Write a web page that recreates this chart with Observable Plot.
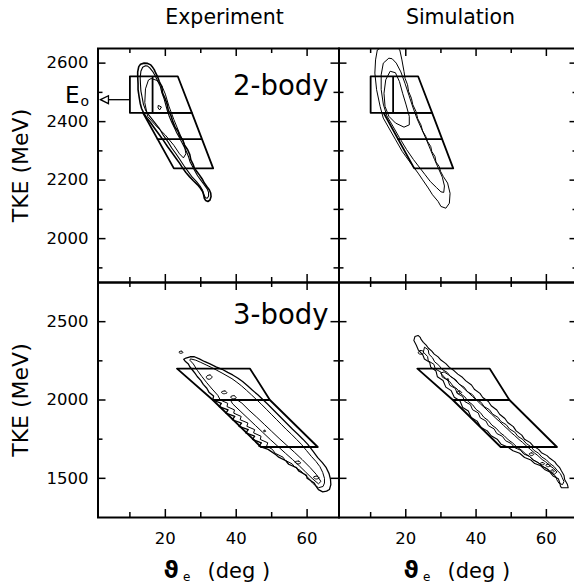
<!DOCTYPE html>
<html>
<head>
<meta charset="utf-8">
<script src="https://cdn.jsdelivr.net/npm/d3@7"></script>
<script src="https://cdn.jsdelivr.net/npm/@observablehq/plot@0.6"></script>
<style>
  html, body { margin: 0; padding: 0; background: #fff; overflow: hidden; }
  #fig { position: relative; width: 574px; height: 584px; overflow: hidden; background: #fff; }
  #fig > svg { position: absolute; }
</style>
</head>
<body>
<div id="fig"></div>
<script>
// ---- axes ----
const thetaDomain = [1, 69];
const tkeDomainTop = [1850, 2650];
const tkeDomainBottom = [1250, 2750];
const xMajor = [20, 40, 60];
const xMinor = [10, 30, 50];
const xLabels = [20, 40, 60];
const yMajorTop = [2000, 2200, 2400, 2600];
const yMinorTop = [1900, 2100, 2300, 2500];
const yMajorBottom = [1500, 2000, 2500];
const yMinorBottom = [1750, 2250];
const columns = ["Experiment", "Simulation"];
const rows = ["2-body", "3-body"];

// beam energy marker (MeV) and arrow span in theta (deg)
const E0 = 2475;
const e0ArrowTheta = [10, 3.05];

// ---- gates: [theta, TKE] vertices ----
const box2Upper = [[10, 2555], [23.5, 2555], [27.5, 2430], [10, 2430]];
const box2Lower = [[13.7, 2430], [27.5, 2430], [33.5, 2240], [22.4, 2240]];
const box2Dividers = [[16.4, 2430, 16.4, 2555], [17.6, 2340, 30.3, 2340]];
const box3 = [[23.3, 2200], [43.9, 2200], [49.5, 2000], [63, 1700], [47, 1700], [33.4, 2000]];
const box3Dividers = [[33.4, 2000, 49.5, 2000]];

// ---- experiment, 2-body contours ----
const exp2Outer = [[14.0,2600],[13.0,2596],[12.5,2588],[12.2,2570],[12.2,2554],[12.3,2530],[12.3,2509],[12.6,2485],[12.9,2463],[13.3,2445],[13.9,2429],[14.8,2412],[15.9,2395],[17.1,2375],[18.3,2355],[19.5,2335],[20.6,2315],[21.8,2295],[23.0,2275],[24.0,2258],[24.9,2241],[25.8,2226],[26.8,2212],[27.9,2198],[29.1,2184],[29.9,2172],[30.5,2161],[30.8,2150],[31.0,2138],[31.4,2130],[32.0,2127],[32.6,2132],[32.9,2144],[32.8,2156],[32.4,2167],[31.7,2178],[31.0,2190],[30.4,2204],[29.6,2218],[29.0,2228],[28.2,2241],[27.8,2255],[27.2,2269],[26.9,2287],[26.3,2304],[25.4,2320],[24.9,2338],[24.0,2352],[23.6,2366],[22.7,2382],[22.1,2400],[21.6,2420],[20.8,2440],[20.5,2460],[19.9,2480],[19.2,2498],[19.0,2520],[18.3,2537],[17.8,2554],[17.2,2568],[16.9,2577],[16.3,2588],[15.9,2594],[15.0,2599]];
const exp2Mid = [[14.4,2591],[13.6,2586],[13.1,2572],[12.9,2550],[13.0,2525],[13.1,2505],[13.5,2480],[13.8,2460],[14.4,2440],[15.2,2425],[16.8,2400],[18.4,2375],[19.5,2352],[20.8,2330],[21.8,2310],[23.0,2290],[24.0,2272],[25.2,2250],[26.4,2230],[27.6,2210],[28.8,2195],[29.8,2180],[30.5,2165],[30.9,2150],[31.3,2140],[31.8,2138],[32.2,2145],[32.2,2158],[31.8,2170],[30.9,2185],[30.0,2200],[29.1,2215],[28.3,2232],[27.6,2248],[27.0,2262],[26.6,2278],[26.0,2296],[25.4,2312],[24.6,2330],[24.0,2345],[23.2,2362],[22.6,2378],[21.9,2395],[21.2,2415],[20.6,2436],[20.1,2458],[19.6,2480],[19.0,2500],[18.6,2520],[17.8,2540],[17.1,2558],[16.4,2572],[15.6,2584],[15.0,2590]];
const exp2Inner = [[15.2,2541],[14.4,2512],[14.2,2465],[15.0,2418],[17.1,2389],[20.0,2354],[22.4,2319],[24.0,2290],[25.1,2276],[25.8,2290],[25.3,2325],[23.8,2366],[22.4,2407],[21.0,2453],[20.0,2494],[19.0,2523],[17.6,2541],[16.1,2547]];
const exp2Peak = [[18.1,2455],[18.9,2450],[18.4,2440],[18.0,2446]];

// ---- simulation, 2-body contours ----
const sim2Outer = [[15.3,2660],[13.4,2656],[11.9,2645],[11.4,2611],[11.2,2566],[11.7,2509],[12.7,2452],[13.6,2412],[15.2,2378],[17.1,2338],[19.0,2298],[21.4,2258],[23.5,2224],[24.8,2201],[26.4,2173],[27.6,2150],[29.2,2127],[30.0,2110],[31.4,2104],[32.4,2121],[32.6,2155],[31.9,2190],[30.7,2212],[29.9,2230],[29.5,2247],[28.6,2262],[28.3,2281],[27.4,2298],[27.1,2315],[26.2,2332],[25.7,2349],[24.8,2368],[24.3,2389],[23.4,2410],[22.9,2435],[22.0,2458],[21.6,2480],[20.8,2503],[20.5,2526],[19.8,2548],[19.5,2571],[18.9,2611],[18.3,2645],[17.2,2658]];
const sim2Mid = [[15.1,2616],[13.6,2600],[13.0,2560],[13.0,2510],[13.6,2460],[14.6,2420],[16.3,2385],[18.2,2345],[20.2,2305],[22.2,2270],[23.8,2245],[25.4,2220],[27.0,2195],[28.7,2175],[30.0,2160],[30.8,2158],[31.0,2180],[30.4,2210],[29.3,2240],[28.2,2270],[27.0,2305],[25.8,2340],[24.5,2375],[23.2,2410],[22.0,2450],[20.9,2490],[19.8,2530],[18.6,2570],[17.3,2600],[16.2,2614]];
const sim2Inner = [[15.5,2571],[14.3,2543],[13.8,2497],[14.1,2452],[15.2,2418],[17.1,2395],[19.5,2381],[21.0,2389],[21.0,2418],[20.1,2457],[19.1,2497],[18.2,2537],[17.1,2566]];

// ---- experiment, 3-body contours ----
const exp3Outer = [[25.8,2268],[27.0,2276],[28.2,2276],[29.6,2262],[31.0,2246],[32.6,2230],[34.3,2212],[36.0,2196],[37.6,2176],[39.0,2160],[40.4,2140],[41.8,2118],[43.2,2091],[44.6,2062],[46.1,2033],[47.5,2003],[48.9,1973],[50.3,1941],[51.7,1909],[53.1,1877],[54.5,1845],[55.9,1813],[57.4,1781],[58.8,1750],[60.2,1717],[61.6,1675],[63.0,1632],[64.3,1600],[65.4,1568],[66.2,1530],[66.6,1493],[66.7,1460],[66.3,1429],[65.5,1418],[64.4,1414],[63.2,1428],[62.5,1450],[62.0,1470],[60.0,1500],[59.8,1520],[57.6,1548],[57.0,1568],[54.8,1590],[54.0,1612],[52.0,1635],[51.2,1650],[49.0,1685],[46.4,1706],[47.1,1727],[44.6,1748],[45.2,1769],[42.7,1790],[43.4,1811],[40.8,1832],[41.5,1853],[38.9,1874],[39.6,1895],[37.1,1916],[37.7,1937],[35.2,1958],[35.8,1979],[33.4,2000],[33.6,2025],[32.3,2050],[31.7,2075],[30.7,2100],[30.0,2125],[29.0,2150],[28.4,2170],[27.7,2190],[26.9,2212],[26.5,2230],[25.6,2248],[25.2,2260]];
const exp3Mid = [[27.2,2262],[28.6,2254],[30.0,2240],[31.5,2224],[33.0,2208],[34.5,2190],[36.0,2172],[37.4,2154],[38.8,2136],[40.2,2113],[41.5,2090],[42.9,2062],[44.3,2033],[45.7,2003],[47.1,1973],[48.5,1941],[49.9,1909],[51.3,1877],[52.7,1845],[54.1,1813],[55.6,1781],[57.0,1749],[58.4,1717],[59.8,1678],[61.2,1640],[62.5,1608],[63.6,1575],[64.4,1538],[64.9,1500],[64.9,1470],[64.5,1448],[63.2,1440],[62.3,1455],[61.5,1470],[60.5,1500],[59.3,1522],[58.2,1548],[56.5,1572],[55.8,1592],[53.8,1615],[53.2,1635],[51.0,1660],[50.2,1685],[48.6,1706],[48.9,1727],[46.8,1748],[47.0,1769],[44.9,1790],[45.2,1811],[43.0,1832],[43.3,1853],[41.1,1874],[41.4,1895],[39.3,1916],[39.5,1937],[37.4,1958],[37.6,1979],[35.5,2000],[34.8,2030],[33.2,2070],[31.7,2110],[30.3,2150],[29.0,2190],[27.9,2230],[27.0,2252]];
const exp3Inner = [[40.0,2005],[41.6,1980],[43.6,1935],[45.8,1890],[47.9,1845],[50.0,1800],[52.1,1755],[54.3,1710],[56.5,1665],[58.6,1620],[60.8,1570],[62.6,1525],[63.9,1480],[63.2,1465],[61.4,1500],[59.6,1540],[57.8,1580],[55.9,1620],[53.9,1660],[51.8,1703],[49.6,1748],[47.5,1793],[45.4,1838],[43.3,1883],[41.1,1930],[39.0,1975],[38.6,1990]];
const exp3Islands = [
  [[23.8,2306],[24.5,2312],[25.0,2304],[24.3,2298]],
  [[31.6,2150],[32.6,2160],[33.2,2146],[32.4,2132],[31.7,2138]],
  [[35.8,2050],[36.8,2058],[37.4,2046],[36.4,2040]],
  [[38.4,2020],[39.4,2028],[40.0,2014],[39.0,2008]],
  [[47.7,1804],[48.1,1807],[48.3,1800],[47.8,1798]],
  [[56.6,1604],[57.6,1610],[58.2,1598],[57.2,1592]],
  [[61.8,1508],[62.8,1514],[63.4,1502],[62.4,1496]]
];

// ---- simulation, 3-body contours ----
const sim3Outer = [[22.6,2405],[22.3,2380],[23.0,2350],[23.6,2318],[24.8,2290],[25.3,2262],[26.8,2240],[27.1,2210],[28.6,2185],[29.0,2148],[30.6,2125],[31.4,2082],[32.9,2060],[33.8,2018],[35.4,1995],[36.2,1952],[37.8,1930],[38.6,1888],[40.3,1865],[41.4,1825],[43.2,1803],[44.3,1772],[46.0,1750],[47.1,1718],[49.0,1700],[50.5,1676],[52.4,1660],[53.8,1633],[55.6,1617],[56.7,1594],[58.4,1580],[59.5,1557],[61.0,1540],[61.9,1515],[63.4,1498],[63.8,1472],[64.0,1450],[64.3,1440],[66.2,1440],[66.0,1460],[65.2,1493],[65.0,1520],[64.3,1547],[63.8,1568],[62.9,1589],[62.4,1605],[61.0,1628],[60.2,1645],[58.6,1664],[57.8,1685],[56.2,1707],[55.4,1728],[53.8,1749],[53.0,1776],[51.4,1803],[50.6,1830],[49.0,1856],[48.2,1882],[46.7,1909],[45.9,1936],[44.3,1963],[43.5,1990],[41.9,2016],[41.1,2042],[39.5,2069],[38.7,2096],[37.1,2122],[36.1,2145],[34.8,2165],[33.7,2188],[32.4,2208],[31.4,2232],[30.0,2255],[29.2,2275],[28.1,2293],[27.4,2312],[26.4,2332],[25.8,2350],[25.0,2368],[24.4,2385],[24.1,2400],[23.5,2412]];
const sim3Mid = [[25.3,2335],[25.0,2305],[26.2,2278],[26.4,2250],[28.0,2228],[28.4,2198],[30.0,2178],[30.4,2146],[32.0,2126],[32.5,2094],[34.1,2074],[34.6,2042],[36.2,2022],[36.8,1990],[38.4,1970],[39.0,1938],[40.6,1918],[41.2,1886],[42.8,1866],[43.5,1836],[45.1,1816],[45.9,1786],[47.5,1768],[48.4,1740],[50.0,1722],[51.0,1696],[52.6,1680],[53.6,1655],[55.2,1640],[56.3,1615],[57.8,1600],[59.0,1575],[60.4,1560],[61.4,1535],[62.6,1515],[63.0,1490],[63.6,1468],[64.6,1460],[65.0,1480],[64.5,1505],[64.0,1530],[63.0,1552],[62.2,1575],[61.0,1595],[60.0,1618],[58.7,1636],[57.8,1660],[56.5,1678],[55.6,1702],[54.3,1722],[53.3,1748],[51.9,1768],[51.0,1795],[49.5,1815],[48.6,1842],[47.1,1862],[46.2,1890],[44.7,1910],[43.8,1938],[42.3,1958],[41.4,1986],[39.9,2006],[39.0,2034],[37.5,2054],[36.6,2082],[35.1,2102],[34.2,2130],[32.7,2150],[31.8,2176],[30.3,2196],[29.4,2222],[28.2,2244],[27.6,2270],[26.6,2292],[26.4,2318]];
const sim3Inner = [[30.0,2170],[31.2,2140],[32.4,2120],[33.4,2090],[34.6,2070],[35.6,2040],[36.8,2020],[37.8,1990],[39.0,1970],[40.0,1940],[41.2,1920],[42.2,1890],[43.4,1870],[44.5,1840],[45.7,1820],[46.8,1792],[48.0,1772],[49.2,1745],[50.4,1726],[51.6,1700],[52.8,1682],[54.0,1658],[55.2,1640],[56.4,1617],[57.6,1600],[58.8,1578],[60.0,1562],[61.2,1540],[62.2,1525],[63.0,1540],[62.0,1565],[61.0,1580],[59.8,1605],[58.8,1620],[57.6,1645],[56.6,1662],[55.4,1686],[54.4,1705],[53.2,1730],[52.2,1748],[51.0,1773],[50.0,1792],[48.8,1818],[47.8,1838],[46.6,1864],[45.6,1884],[44.4,1910],[43.4,1930],[42.2,1956],[41.2,1976],[40.0,2002],[39.0,2022],[37.8,2048],[36.8,2068],[35.6,2094],[34.6,2114],[33.4,2140],[32.2,2160],[31.0,2178]];
const sim3Islands = [
  [[23.6,2306],[24.2,2316],[25.0,2310],[25.0,2298],[24.2,2292],[23.6,2298]],
  [[31.6,2132],[32.0,2135],[32.3,2129],[31.8,2126]],
  [[34.6,2050],[35.3,2058],[35.9,2048],[35.2,2040]],
  [[55.1,1656],[55.8,1663],[56.4,1653],[55.7,1645]],
  [[58.2,1594],[58.9,1601],[59.5,1593],[58.9,1586]],
  [[59.8,1584],[60.6,1590],[61.1,1580],[60.4,1574]],
  [[61.2,1548],[61.8,1554],[62.3,1545],[61.7,1539]]
];

// ---- drawing ----
const FONT = "DejaVu Sans, Verdana, sans-serif";
const px = d => d[0], py = d => d[1];
const fmt = d => `${d}`;
const leftTriangle = {
  draw(ctx, size) {
    const s = Math.sqrt(size / 3);
    ctx.moveTo(-1.2 * s, 0);
    ctx.lineTo(0.8 * s, -s);
    ctx.lineTo(0.8 * s, s);
    ctx.closePath();
  }
};

function contourMarks(list) {
  return list.map(({pts, w, curve}) =>
    Plot.line(pts, {x: px, y: py, curve: curve || "linear-closed", strokeWidth: w, clip: true, strokeLinejoin: "round"}));
}

function gateMarks(polys, dividers) {
  return [
    ...polys.map(p => Plot.line(p, {x: px, y: py, curve: "linear-closed", strokeWidth: 1.8})),
    Plot.link(dividers, {x1: d => d[0], y1: d => d[1], x2: d => d[2], y2: d => d[3], strokeWidth: 1.8})
  ];
}

function tickMarks(fw, fh, yMajor, yMinor) {
  const major = 8, minor = 5, sw = 1.5;
  return [
    Plot.tickX(xMajor, {x: d => d, insetBottom: fh - major, strokeWidth: sw}),
    Plot.tickX(xMajor, {x: d => d, insetTop: fh - major, strokeWidth: sw}),
    Plot.tickX(xMinor, {x: d => d, insetBottom: fh - minor, strokeWidth: sw}),
    Plot.tickX(xMinor, {x: d => d, insetTop: fh - minor, strokeWidth: sw}),
    Plot.tickY(yMajor, {y: d => d, insetRight: fw - major, strokeWidth: sw}),
    Plot.tickY(yMajor, {y: d => d, insetLeft: fw - major, strokeWidth: sw}),
    Plot.tickY(yMinor, {y: d => d, insetRight: fw - minor, strokeWidth: sw}),
    Plot.tickY(yMinor, {y: d => d, insetLeft: fw - minor, strokeWidth: sw}),
    Plot.frame({strokeWidth: 2})
  ];
}

function panel({left, top, width, height, mL, mR, mT, mB, yDomain, yMajor, yMinor, marks, yAxis, xAxis}) {
  const fw = width - mL - mR, fh = height - mT - mB;
  const svg = Plot.plot({
    width, height,
    marginLeft: mL, marginRight: mR, marginTop: mT, marginBottom: mB,
    x: {domain: thetaDomain, ...(xAxis ? {} : {axis: null}), label: null},
    y: {domain: yDomain, ...(yAxis ? {} : {axis: null}), label: null},
    style: {background: "transparent", overflow: "visible", fontFamily: FONT, color: "black"},
    marks: [
      ...marks,
      ...tickMarks(fw, fh, yMajor, yMinor),
      ...(yAxis ? [Plot.axisY(yAxis, {anchor: "left", tickSize: 0, tickPadding: 9.5, fontSize: 16.5, tickFormat: fmt, label: null})] : []),
      ...(xAxis ? [Plot.axisX(xAxis, {anchor: "bottom", tickSize: 0, tickPadding: 14.5, fontSize: 16.5, tickFormat: fmt, label: null})] : [])
    ]
  });
  svg.style.left = `${left}px`;
  svg.style.top = `${top}px`;
  document.getElementById("fig").appendChild(svg);
}

const tkeLabel = Plot.text(["TKE (MeV)"], {frameAnchor: "left", dx: -77.5, rotate: -90, fontSize: 22, textAnchor: "middle", lineAnchor: "middle"});
const thetaTitle = [
  Plot.text(["\u03D1"], {frameAnchor: "bottom", dx: -55, dy: 60, textAnchor: "start", lineAnchor: "bottom", fontSize: 23, fontWeight: "bold"}),
  Plot.text(["e"], {frameAnchor: "bottom", dx: -35.5, dy: 63.5, textAnchor: "start", lineAnchor: "bottom", fontSize: 12}),
  Plot.text(["(deg )"], {frameAnchor: "bottom", dx: -11, dy: 60, textAnchor: "start", lineAnchor: "bottom", fontSize: 21})
];

// top-left: experiment, 2-body
panel({
  left: 0, top: 0, width: 340, height: 283, mL: 97.5, mR: 1.5, mT: 48, mB: 1,
  yDomain: tkeDomainTop, yMajor: yMajorTop, yMinor: yMinorTop, yAxis: yMajorTop,
  marks: [
    ...contourMarks([
      {pts: exp2Outer, w: 1.6}, {pts: exp2Mid, w: 1.1}, {pts: exp2Inner, w: 1}, {pts: exp2Peak, w: 1}
    ]),
    ...gateMarks([box2Upper, box2Lower], box2Dividers),
    Plot.link([E0], {x1: e0ArrowTheta[0], x2: e0ArrowTheta[1], y1: d => d, y2: d => d, strokeWidth: 1.3}),
    Plot.dot([E0], {x: e0ArrowTheta[1], y: d => d, symbol: leftTriangle, r: 3.9, fill: "white", stroke: "black", strokeWidth: 1.3}),
    Plot.text([E0], {y: d => d, text: () => "E", frameAnchor: "left", dx: -18.5, dy: 3, textAnchor: "end", lineAnchor: "bottom", fontSize: 23}),
    Plot.text([E0], {y: d => d, text: () => "o", frameAnchor: "left", dx: -17.5, dy: 6, textAnchor: "start", lineAnchor: "bottom", fontSize: 14}),
    Plot.text([rows[0]], {frameAnchor: "top-right", dx: -10.5, dy: 46, textAnchor: "end", lineAnchor: "bottom", fontSize: 27.5}),
    Plot.text([columns[0]], {frameAnchor: "top", dx: 6, dy: -25, lineAnchor: "bottom", fontSize: 20.5}),
    tkeLabel
  ]
});

// top-right: simulation, 2-body
panel({
  left: 337, top: 0, width: 242, height: 283, mL: 1.5, mR: 1.5, mT: 48, mB: 1,
  yDomain: tkeDomainTop, yMajor: yMajorTop, yMinor: yMinorTop,
  marks: [
    ...contourMarks([
      {pts: sim2Outer, w: 1}, {pts: sim2Mid, w: 1}, {pts: sim2Inner, w: 1}
    ]),
    ...gateMarks([box2Upper, box2Lower], box2Dividers),
    Plot.text([columns[1]], {frameAnchor: "top", dx: 2, dy: -25, lineAnchor: "bottom", fontSize: 20.5})
  ]
});

// bottom-left: experiment, 3-body
panel({
  left: 0, top: 281, width: 340, height: 303, mL: 97.5, mR: 1.5, mT: 1, mB: 67,
  yDomain: tkeDomainBottom, yMajor: yMajorBottom, yMinor: yMinorBottom, yAxis: yMajorBottom, xAxis: xLabels,
  marks: [
    ...contourMarks([
      {pts: exp3Outer, w: 1.3}, {pts: exp3Mid, w: 1}, {pts: exp3Inner, w: 1},
      ...exp3Islands.map(pts => ({pts, w: 1, curve: "catmull-rom-closed"}))
    ]),
    ...gateMarks([box3], box3Dividers),
    Plot.text([rows[1]], {frameAnchor: "top-right", dx: -10.5, dy: 41.5, textAnchor: "end", lineAnchor: "bottom", fontSize: 27.5}),
    tkeLabel,
    ...thetaTitle
  ]
});

// bottom-right: simulation, 3-body
panel({
  left: 337, top: 281, width: 242, height: 303, mL: 1.5, mR: 1.5, mT: 1, mB: 67,
  yDomain: tkeDomainBottom, yMajor: yMajorBottom, yMinor: yMinorBottom, xAxis: xLabels,
  marks: [
    ...contourMarks([
      {pts: sim3Outer, w: 1.1}, {pts: sim3Mid, w: 1}, {pts: sim3Inner, w: 1},
      ...sim3Islands.map(pts => ({pts, w: 1, curve: "catmull-rom-closed"}))
    ]),
    ...gateMarks([box3], box3Dividers),
    ...thetaTitle
  ]
});
</script>
</body>
</html>
